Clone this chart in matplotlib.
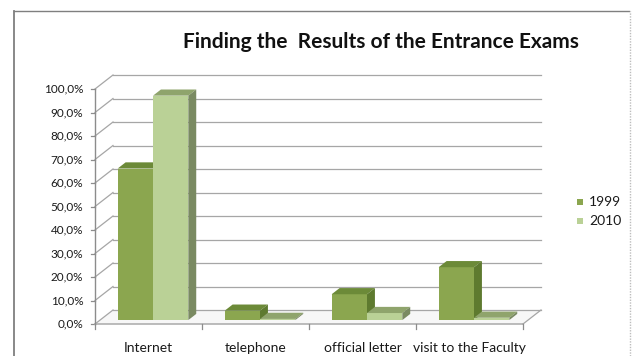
import matplotlib
matplotlib.use("Agg")
import matplotlib.pyplot as plt
from matplotlib.patches import Polygon, Rectangle
from matplotlib.lines import Line2D

# Share of applicants by how they found their entrance exam results
categories = ["Internet", "telephone", "official letter", "visit to the Faculty"]
series_names = ["1999", "2010"]
values_1999 = [64.5, 4.0, 11.0, 22.5]
values_2010 = [95.5, 0.5, 3.0, 1.0]
y_ticks = [0, 10, 20, 30, 40, 50, 60, 70, 80, 90, 100]
y_tick_labels = [f"{t:.1f}".replace(".", ",") + "%" for t in y_ticks]

plt.rcParams["font.family"] = ["Lato", "DejaVu Sans"]

W, H = 632, 356
fig = plt.figure(figsize=(W / 100, H / 100), dpi=100)
fig.patch.set_facecolor("white")

# Front plane of the 3D box in pixels
x0, x1 = 95, 523
y0, y1 = 324, 89
ax = fig.add_axes([x0 / W, (H - y0) / H, (x1 - x0) / W, (y0 - y1) / H])
ax.set_xlim(0, 4)
ax.set_ylim(0, 100)
ax.axis("off")

# Oblique depth offset in data units (full depth)
px_per_x = (x1 - x0) / 4
px_per_y = (y0 - y1) / 100
DX = 18 / px_per_x
DY = 14 / px_per_y

grid_c = "#a6a6a6"

def line(xs, ys, c=grid_c, lw=0.9, z=1):
    ax.add_line(Line2D(xs, ys, color=c, lw=lw, clip_on=False, zorder=z))

# Side wall diagonals and back wall gridlines
for t in y_ticks:
    line([0, DX], [t, t + DY])
    line([DX, 4 + DX], [t + DY, t + DY])
    line([-0.035, 0], [t, t], c="#8c8c8c")  # small tick

# Floor edges and front axis
line([0, 4], [0, 0], c="#b0b0b0", lw=1.2)
line([4, 4 + DX], [0, DY])
line([0, 0], [0, 100], c="#8c8c8c", lw=1.0)
for k in range(5):
    line([k, k], [0, -2.2], c="#8c8c8c")

# Floor fill
ax.add_patch(Polygon([[0, 0], [4, 0], [4 + DX, DY], [DX, DY]], closed=True,
                     facecolor="#f7f7f7", edgecolor="none", zorder=0.5, clip_on=False))

colors = {
    "1999": ("#8ba64f", "#6c8a38", "#5e7a2f"),
    "2010": ("#bad196", "#8fa46c", "#7a8a62"),
}

bar_w = 0.33
d_front, d_back = 0.28, 0.72

def bar3d(xc, v, cols):
    front, top, side = cols
    ox, oy = DX * d_front, DY * d_front
    bx, by = DX * (d_back - d_front), DY * (d_back - d_front)
    xl, xr = xc - bar_w / 2 + ox, xc + bar_w / 2 + ox
    yb, yt = oy, v + oy
    ax.bar(xl, v, width=bar_w, bottom=yb, align="edge", color=front,
           edgecolor="none", zorder=3, clip_on=False)
    ax.add_patch(Polygon([[xl, yt], [xr, yt], [xr + bx, yt + by], [xl + bx, yt + by]],
                         closed=True, facecolor=top, edgecolor="none", zorder=3, clip_on=False))
    ax.add_patch(Polygon([[xr, yb], [xr + bx, yb + by], [xr + bx, yt + by], [xr, yt]],
                         closed=True, facecolor=side, edgecolor="none", zorder=3, clip_on=False))

for i in range(len(categories)):
    centre = i + 0.5
    bar3d(centre - bar_w / 2 - 0.005, values_1999[i], colors["1999"])
    bar3d(centre + bar_w / 2 - 0.005, values_2010[i], colors["2010"])

# Tick labels
for t, lab in zip(y_ticks, y_tick_labels):
    ax.text(-0.11, t, lab, ha="right", va="center", fontsize=8.5, color="#1a1a1a")
for i, c in enumerate(categories):
    ax.text(i + 0.5, -10.2, c, ha="center", va="center", fontsize=10, color="#1a1a1a")

# Title
fig.text(381 / W, 1 - 42 / H, "Finding the  Results of the Entrance Exams",
         ha="center", va="center", fontsize=15, fontweight="bold", color="#111111")

# Legend
for name, yy in zip(series_names, [202, 221]):
    fig.patches.append(Rectangle((577 / W, 1 - (yy + 3) / H), 6 / W, 6 / H,
                                 transform=fig.transFigure, facecolor=colors[name][0],
                                 edgecolor="none"))
    fig.text(589 / W, 1 - yy / H, name, ha="left", va="center", fontsize=10, color="#1a1a1a")

# Chart frame
fig.add_artist(Line2D([14 / W, 14 / W], [0, 1 - 11 / H], color="#7f7f7f", lw=1.3,
                      transform=fig.transFigure))
fig.add_artist(Line2D([14 / W, 629 / W], [1 - 11 / H, 1 - 11 / H], color="#7f7f7f", lw=1.0,
                      transform=fig.transFigure))
fig.add_artist(Line2D([629.5 / W, 629.5 / W], [0, 1 - 11 / H], color="#bdbdbd", lw=1.0,
                      linestyle=(0, (1, 1)), transform=fig.transFigure))

fig.savefig("out.png", dpi=100, facecolor="white")
